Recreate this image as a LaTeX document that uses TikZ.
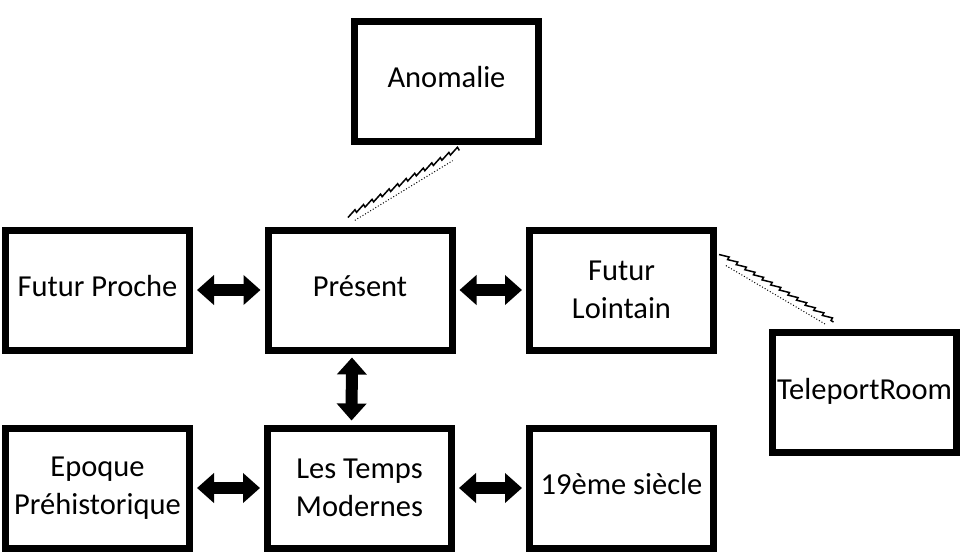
\documentclass[tikz,border=0pt]{standalone}
\usepackage{fontspec}
\setmainfont{Carlito}
\usepackage{tikz}
\usetikzlibrary{arrows.meta,decorations.pathmorphing}

\begin{document}
\begin{tikzpicture}[x=1pt, y=-1pt,
	epoch/.style={draw, line width=7pt, minimum width=184pt, minimum height=120pt, inner sep=0pt, align=center, font=\fontsize{30.5}{38}\selectfont},
	oneline/.style={text depth=8pt},
	dbl/.style={line width=12pt, {Triangle[width=29pt,length=17pt]}-{Triangle[width=29pt,length=17pt]}, shorten <=4pt, shorten >=4pt},
	warp/.style={postaction={draw, line width=1.5pt, decorate, decoration={saw, segment length=10pt, amplitude=3pt}},
		postaction={draw, dotted, line width=1pt, shorten <=8pt, shorten >=8pt, transform canvas={shift={(0pt,-7pt)}}}}]

	\useasboundingbox (0,0) rectangle (961,552);

	\node[epoch, oneline] (anomalie) at (446.5,81) {Anomalie};

	\node[epoch, oneline] (proche) at (97.5,290) {Futur Proche};
	\node[epoch, oneline] (present) at (360,290) {Présent};
	\node[epoch] (lointain) at (621.5,290) {Futur\\Lointain};
	\node[epoch, oneline] (teleport) at (864.5,392.5) {TeleportRoom};

	\node[epoch] (prehisto) at (97.5,488) {Epoque\\Préhistorique};
	\node[epoch] (modernes) at (359.5,488) {Les Temps\\Modernes};
	\node[epoch, oneline] (siecle) at (621.5,488) {19ème siècle};

	% fat two-way arrows between the eras
	\foreach \a/\b in {proche/present, present/lointain, prehisto/modernes, modernes/siecle}
		\draw[dbl] (\a) -- (\b);
	\draw[dbl] ([xshift=-8pt]present.south) -- ([xshift=-8pt]modernes.north);

	% the wobbly ones
	\path[warp] ([xshift=-12pt,yshift=9pt]present.north) -- ([xshift=13pt,yshift=-5pt]anomalie.south);
	\path[warp] ([xshift=2pt,yshift=-28pt]lointain.north east) -- ([xshift=-31pt,yshift=7pt]teleport.north);

\end{tikzpicture}
\end{document}
